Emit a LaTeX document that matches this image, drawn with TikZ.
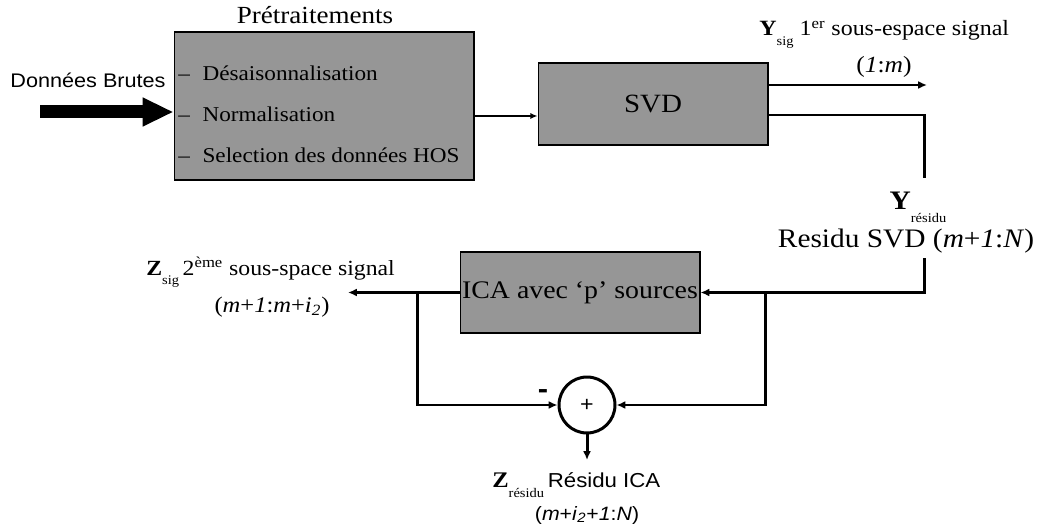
\documentclass[tikz,border=0pt]{standalone}
\usepackage{fontspec}
\setmainfont{Liberation Serif}[FakeStretch=1.1]
\newfontfamily\arialfont{Liberation Sans}[FakeStretch=1.1]
\usetikzlibrary{arrows.meta}
\newcommand{\fs}[1]{\fontsize{#1}{#1}\selectfont}
\newcommand{\lowsub}[1]{\raisebox{-0.45em}{\fs{7.5}#1}}

\begin{document}
\begin{tikzpicture}[x=0.02cm,y=-0.02cm,
  block/.style={draw,fill=black!41,line width=0.6pt,inner sep=0pt},
  wire/.style={line width=1.7pt},
  sig/.style={wire,-{Latex[length=5pt,width=4.5pt]}},
  txt/.style={inner sep=0pt,font=\fs{12}}]
  \useasboundingbox (0,0) rectangle (1040,530);

  % The three processing blocks and the summing junction.
  \node[block,minimum width=6cm,minimum height=2.96cm] (pre) at (324,106) {};
  \node[block,minimum width=4.6cm,minimum height=1.64cm,font=\fs{15}] (svd) at (653,104)
    {\raisebox{-0.06cm}{SVD}};
  \node[block,minimum width=4.8cm,minimum height=1.62cm,font=\fs{14.4}] (ica) at (580,292.5)
    {ICA avec ‘p’ sources};
  \node[circle,draw,line width=1.7pt,minimum size=1.12cm,inner sep=0pt,
        font=\arialfont\fs{12}] (sum) at (587,405) {+};

  % Pretreatment steps.
  \node[txt,anchor=base,font=\fs{14}] (pretitle) at (315,24) {Prétraitements};
  \foreach \n/\y/\t in {1/81/Désaisonnalisation,2/122/Normalisation,
                        3/163/Selection des données HOS}
    \node[txt,anchor=base west] (item\n) at (178,\y) {–\hspace{0.6em}\t};

  % Raw input.
  \node[txt,anchor=base,font=\arialfont\fs{11.2}] (rawlbl) at (88,88) {Données Brutes};
  \coordinate (raw) at (40,112);
  \draw[line width=7.4pt,-{Triangle[length=17.6pt,width=15.3pt]}] (raw) -- (raw -| pre.west);
  \draw[line width=1.1pt,-{Latex[length=4pt,width=3.5pt]}]
    ([yshift=-0.2cm]pre.east) -- ([yshift=-0.2cm]pre.east -| svd.west);

  % SVD outputs: signal subspace and residual.
  \coordinate (ysig) at (927,85);
  \coordinate (ybend) at (924,115);
  \coordinate (yend) at (924,178);
  \draw[sig] (svd.east |- ysig) -- (ysig);
  \draw[wire] (svd.east |- ybend) -- (ybend) -- (yend);
  \node[txt,anchor=base west,font=\fs{12.4}] (ysiglbl) at (759,36)
    {\textbf{Y}\lowsub{sig} 1\textsuperscript{er} sous-espace signal};
  \node[txt,anchor=base,font=\fs{13.2}] (ysigrng) at (884,73) {(\textit{1}:\textit{m})};
  \node[txt,anchor=base,font=\fs{15.2}] (yreslbl) at (918,210) {\textbf{Y}\lowsub{résidu}};
  \node[txt,anchor=base,font=\fs{15.2}] (yresrng) at (906,247)
    {Residu SVD (\textit{m}+\textit{1}:\textit{N})};

  % ICA stage with the residual feedback.
  \coordinate (yres) at (924,258);
  \coordinate (tapR) at (765,292.5);
  \coordinate (tapL) at (417,292.5);
  \coordinate (zsig) at (348,292.5);
  \coordinate (zres) at (587,460);
  \draw[sig] (yres) |- (ica.east);
  \draw[sig] (ica.west) -- (zsig);
  \draw[sig] (tapR) |- (sum.east);
  \draw[sig] (tapL) |- (sum.west);
  \draw[sig] (sum.south) -- (zres);
  \node[txt,font=\arialfont\bfseries\fs{16}] (minus) at (543,394) {-};

  \node[txt,anchor=base west,font=\fs{12.3}] (zsiglbl) at (146,275)
    {\textbf{Z}\lowsub{sig}\,2\textsuperscript{ème} sous-space signal};
  \node[txt,anchor=base,font=\fs{12.7}] (zsigrng) at (272,312)
    {(\textit{m}+\textit{1}:\textit{m}+\textit{i}\textsubscript{\textit{2}})};
  \node[txt,anchor=base west,font=\fs{12.7}] (zreslbl) at (492,487)
    {\textbf{Z}\lowsub{résidu}\,{\arialfont\fs{11.5}Résidu ICA}};
  \node[txt,anchor=base,font=\arialfont\fs{11}] (zresrng) at (587,520)
    {(\textit{m}+\textit{i}\textsubscript{\textit{2}}+\textit{1}:\textit{N})};
\end{tikzpicture}
\end{document}
